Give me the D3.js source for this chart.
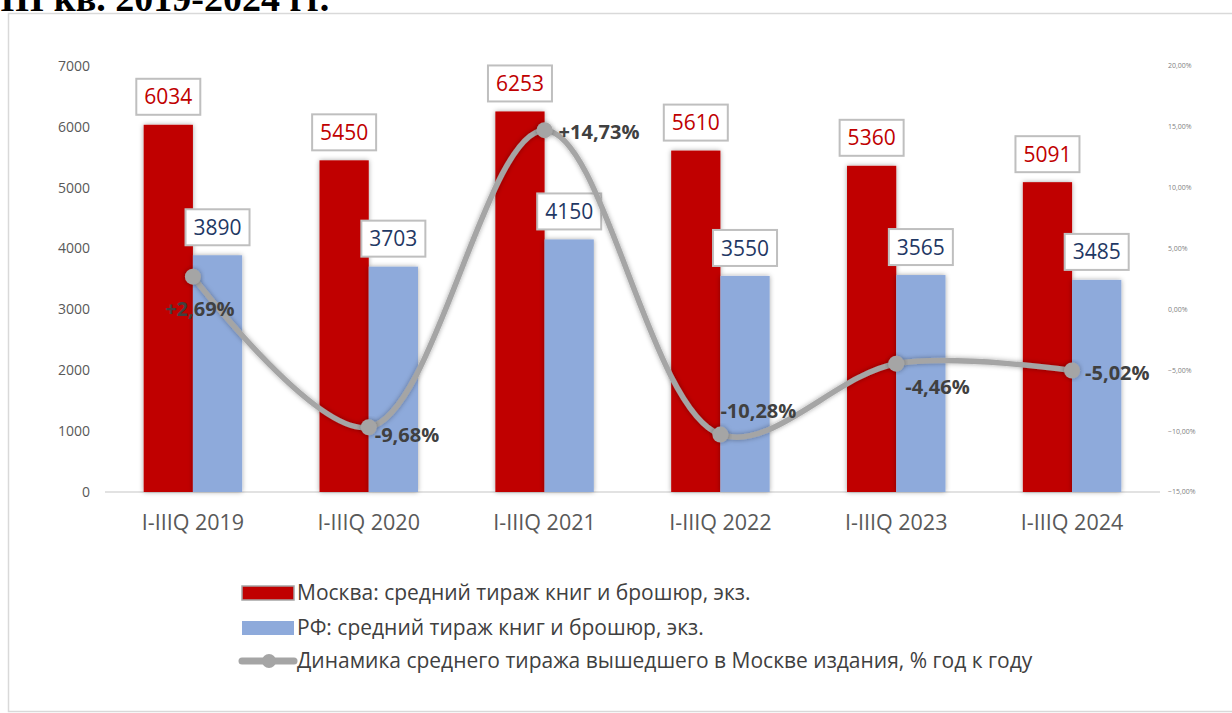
<!DOCTYPE html>
<html>
<head>
<meta charset="utf-8">
<script src="https://cdn.jsdelivr.net/npm/d3@7"></script>
<style>
  body { margin: 0; background: #fff; }
  svg text { font-family: "Open Sans", "Noto Sans", sans-serif; }
</style>
</head>
<body>
<div id="chart"></div>
<script>
// data
var categories = ["I-IIIQ 2019", "I-IIIQ 2020", "I-IIIQ 2021", "I-IIIQ 2022", "I-IIIQ 2023", "I-IIIQ 2024"];
var moscow = [6034, 5450, 6253, 5610, 5360, 5091];
var russia = [3890, 3703, 4150, 3550, 3565, 3485];
var dynamics = [2.69, -9.68, 14.73, -10.28, -4.46, -5.02];
var dynLabels = ["+2,69%", "-9,68%", "+14,73%", "-10,28%", "-4,46%", "-5,02%"];
var leftTicks = [0, 1000, 2000, 3000, 4000, 5000, 6000, 7000];
var rightTicks = [-15, -10, -5, 0, 5, 10, 15, 20];
var legendNames = ["Москва: средний тираж книг и брошюр, экз.",
                   "РФ: средний тираж книг и брошюр, экз.",
                   "Динамика среднего тиража вышедшего в Москве издания, % год к году"];

var W = 1232, H = 713;
var margin = {top: 66, right: 72, bottom: 221, left: 105},
    width = W - margin.left - margin.right,
    height = H - margin.top - margin.bottom;

var svg = d3.select("#chart").append("svg")
    .attr("width", W).attr("height", H);

// shadow filter
var defs = svg.append("defs");
var f = defs.append("filter").attr("id", "shadow")
  .attr("x", "-20%").attr("y", "-20%").attr("width", "140%").attr("height", "140%");
f.append("feDropShadow").attr("dx", 0).attr("dy", 0).attr("stdDeviation", 2.5)
  .attr("flood-color", "#000").attr("flood-opacity", 0.35);

// title (cut at top, as in the source image) and frame
svg.append("text")
  .attr("x", 0).attr("y", 11)
  .style("font-family", "'Liberation Serif', 'DejaVu Serif', serif")
  .style("font-weight", "bold").style("font-size", "38px")
  .text("III кв. 2019-2024 гг.");
svg.append("rect")
  .attr("x", 8.5).attr("y", 13.5).attr("width", 1300).attr("height", 698)
  .attr("fill", "#fff").attr("stroke", "#d9d9d9").attr("stroke-width", 1.5);

var g = svg.append("g").attr("transform", "translate(" + margin.left + "," + margin.top + ")");

var x0 = d3.scaleBand().domain(categories).range([0, width]).paddingInner(0.44).paddingOuter(0.22);
var x1 = d3.scaleBand().domain(["m", "r"]).range([0, x0.bandwidth()]);
var y = d3.scaleLinear().domain([0, 7000]).range([height, 0]);
var y2 = d3.scaleLinear().domain([-15, 20]).range([height, 0]);

// left axis labels
g.selectAll(".lt").data(leftTicks).enter().append("text")
  .attr("x", -15).attr("y", function(d) { return y(d); }).attr("dy", "0.35em")
  .attr("text-anchor", "end").style("font-size", "14px").style("fill", "#595959")
  .text(function(d) { return d; });

// right axis labels
g.selectAll(".rt").data(rightTicks).enter().append("text")
  .attr("x", width + 8).attr("y", function(d) { return y2(d); }).attr("dy", "0.35em")
  .style("font-size", "7px").style("fill", "#7f7f7f")
  .text(function(d) { return d3.format(".2f")(d).replace(".", ",") + "%"; });

// baseline
g.append("line").attr("x1", 0).attr("x2", width).attr("y1", height).attr("y2", height)
  .attr("stroke", "#d9d9d9").attr("stroke-width", 1.5);

// bars
var groups = g.selectAll(".grp").data(categories).enter().append("g")
  .attr("transform", function(d) { return "translate(" + x0(d) + ",0)"; });
groups.append("rect")
  .attr("x", x1("m")).attr("width", x1.bandwidth())
  .attr("y", function(d, i) { return y(moscow[i]); })
  .attr("height", function(d, i) { return height - y(moscow[i]); })
  .attr("fill", "#c00000").attr("filter", "url(#shadow)");
groups.append("rect")
  .attr("x", x1("r")).attr("width", x1.bandwidth())
  .attr("y", function(d, i) { return y(russia[i]); })
  .attr("height", function(d, i) { return height - y(russia[i]); })
  .attr("fill", "#8eaadb").attr("filter", "url(#shadow)");

// value labels in boxes
function boxLabel(sel, key, vals, color) {
  var lb = sel.append("g").attr("transform", function(d, i) {
    return "translate(" + (x1(key) + x1.bandwidth() / 2) + "," + (y(vals[i]) - 28) + ")";
  });
  lb.append("rect").attr("x", -32).attr("y", -18).attr("width", 64).attr("height", 36)
    .attr("fill", "#fff").attr("stroke", "#bfbfbf").attr("stroke-width", 2);
  lb.append("text").attr("text-anchor", "middle").attr("dy", "0.36em")
    .style("font-size", "21px").style("fill", color)
    .text(function(d, i) { return vals[i]; });
}
boxLabel(groups, "m", moscow, "#c00000");
boxLabel(groups, "r", russia, "#1f3864");

// category labels
g.selectAll(".cat").data(categories).enter().append("text")
  .attr("x", function(d) { return x0(d) + x0.bandwidth() / 2; })
  .attr("y", height + 30).attr("dy", "0.35em")
  .attr("text-anchor", "middle").style("font-size", "21.5px").style("fill", "#595959")
  .text(function(d) { return d; });

// line
var cx = function(i) { return x0(categories[i]) + x0.bandwidth() / 2; };
var line = d3.line().x(function(d, i) { return cx(i); }).y(function(d) { return y2(d); })
  .curve(d3.curveCatmullRom.alpha(0.5));
g.append("path").datum(dynamics).attr("d", line)
  .attr("fill", "none").attr("stroke", "#a5a5a5").attr("stroke-width", 5.5)
  .attr("stroke-linecap", "round").attr("filter", "url(#shadow)");
g.selectAll(".dot").data(dynamics).enter().append("circle")
  .attr("cx", function(d, i) { return cx(i); }).attr("cy", function(d) { return y2(d); })
  .attr("r", 8).attr("fill", "#a5a5a5").attr("filter", "url(#shadow)");

// percent labels (offsets relative to point)
var off = [[7, 32, "middle"], [6, 8, "start"], [14, 2, "start"], [0, -24, "start"], [9, 23, "start"], [13, 2, "start"]];
g.selectAll(".pl").data(dynamics).enter().append("text")
  .attr("x", function(d, i) { return cx(i) + off[i][0]; })
  .attr("y", function(d, i) { return y2(d) + off[i][1]; }).attr("dy", "0.35em")
  .attr("text-anchor", function(d, i) { return off[i][2]; })
  .style("font-size", "20px").style("font-weight", "bold").style("fill", "#404040")
  .text(function(d, i) { return dynLabels[i]; });

// legend
var leg = svg.append("g").attr("transform", "translate(242,593)");
leg.append("rect").attr("x", 0).attr("y", -7).attr("width", 52).attr("height", 14)
  .attr("fill", "#c00000").attr("stroke", "#a5a5a5").attr("stroke-width", 1.5);
leg.append("rect").attr("x", 0).attr("y", 35 - 7).attr("width", 52).attr("height", 14)
  .attr("fill", "#8eaadb");
leg.append("line").attr("x1", 0).attr("x2", 52).attr("y1", 68).attr("y2", 68)
  .attr("stroke", "#a5a5a5").attr("stroke-width", 7).attr("stroke-linecap", "round");
leg.append("circle").attr("cx", 27).attr("cy", 68).attr("r", 7).attr("fill", "#a5a5a5");
leg.selectAll(".lt").data(legendNames).enter().append("text")
  .attr("x", 55).attr("y", function(d, i) { return [0, 35, 68][i]; }).attr("dy", "0.35em")
  .style("font-size", "21px").style("fill", "#404040")
  .text(function(d) { return d; });
</script>
</body>
</html>
